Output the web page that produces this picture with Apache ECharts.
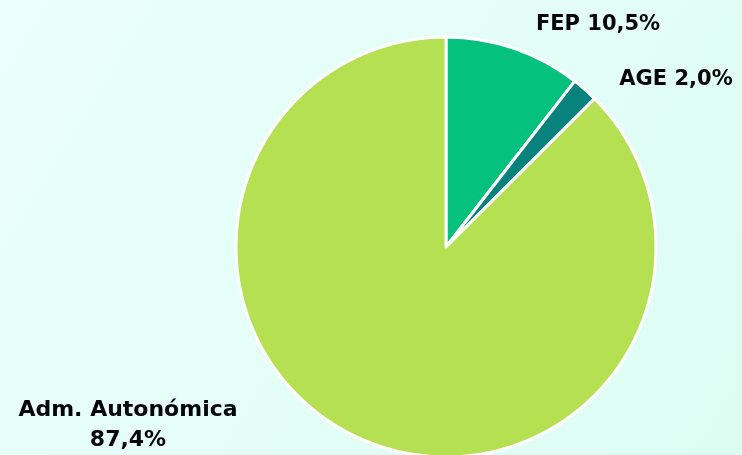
<!DOCTYPE html>
<html>
<head>
<meta charset="utf-8">
<script src="https://cdn.jsdelivr.net/npm/echarts@6/dist/echarts.min.js"></script>
<style>
html,body{margin:0;padding:0;}
#main{width:742px;height:455px;}
</style>
</head>
<body>
<div id="main"></div>
<script>
const categories = ['FEP', 'AGE', 'Adm. Autonómica'];
const values = [10.5, 2.0, 87.4];
const labelTexts = ['FEP 10,5%', 'AGE 2,0%', 'Adm. Autonómica\n87,4%'];
const colors = ['#05c17e', '#08827c', '#b5e051'];
const labelSizes = [21, 21, 22];

const labelPos = [
  {x: 598, y: 25},
  {x: 676, y: 80},
  {x: 128, y: 425}
];

const chart = echarts.init(document.getElementById('main'));
chart.setOption({
  backgroundColor: {
    type: 'linear', x: 0, y: 0, x2: 1, y2: 1,
    colorStops: [{offset: 0, color: '#ebfffb'}, {offset: 1, color: '#ddfdf3'}]
  },
  animation: false,
  series: [{
    type: 'pie',
    center: [446, 247],
    radius: 210,
    startAngle: 90,
    clockwise: true,
    avoidLabelOverlap: false,
    itemStyle: {borderColor: '#ffffff', borderWidth: 3},
    label: {
      show: true,
      position: 'outside',
      formatter: p => labelTexts[p.dataIndex],
      fontFamily: 'DejaVu Sans',
      fontWeight: 'bold',
      color: '#050505',
      align: 'center',
      lineHeight: 30
    },
    labelLine: {show: false},
    labelLayout: function (params) {
      const p = labelPos[params.dataIndex];
      return {x: p.x, y: p.y, align: 'center', verticalAlign: 'middle'};
    },
    data: categories.map((c, i) => ({
      name: c, value: values[i],
      itemStyle: {color: colors[i]},
      label: {fontSize: labelSizes[i]}
    }))
  }]
});
</script>
</body>
</html>
